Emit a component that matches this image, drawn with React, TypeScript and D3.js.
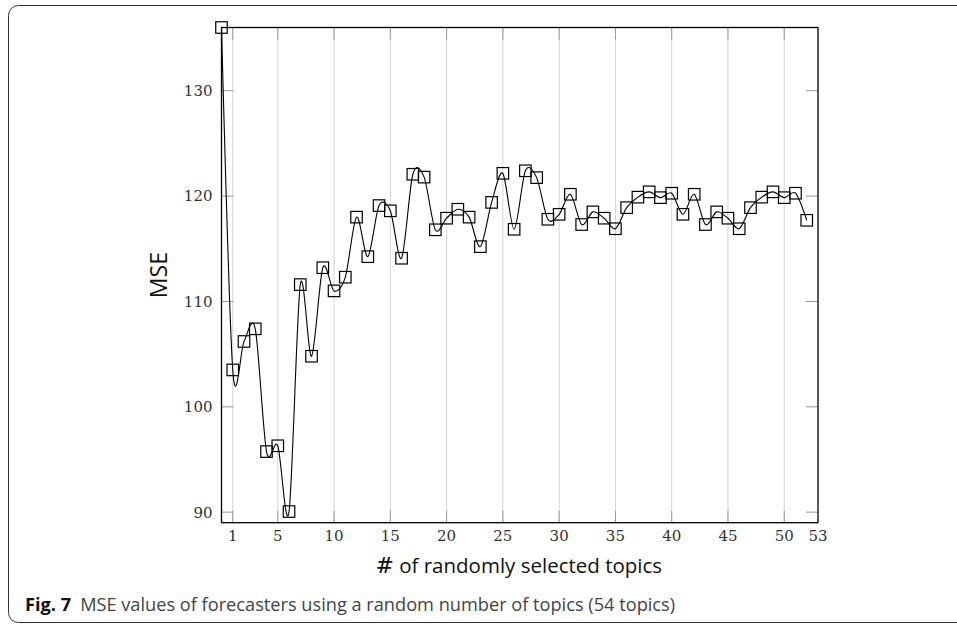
import React, { useEffect, useRef } from "react";
import * as d3 from "d3";

// number of randomly selected topics (x) and the MSE measured for it
const topics = d3.range(0, 53);
const mse = [
  136.0, 103.5, 106.2, 107.4, 95.75, 96.3, 90.06, 111.6, 104.8, 113.2,
  111.0, 112.3, 118.0, 114.25, 119.1, 118.6, 114.1, 122.07, 121.8, 116.8,
  117.9, 118.75, 118.0, 115.2, 119.4, 122.16, 116.85, 122.4, 121.75, 117.8,
  118.27, 120.17, 117.3, 118.5, 117.9, 116.9, 118.9, 119.9, 120.4, 119.85,
  120.27, 118.27, 120.17, 117.3, 118.5, 117.9, 116.9, 118.9, 119.9, 120.4,
  119.85, 120.27, 117.7,
];
const xTicks = [1, 5, 10, 15, 20, 25, 30, 35, 40, 45, 50, 53];
const yTicks = [90, 100, 110, 120, 130];

const W = 957;
const H = 626;

function Chart() {
  const ref = useRef<SVGSVGElement>(null);

  useEffect(() => {
    const svg = d3.select(ref.current);
    svg.selectAll("*").remove();

    const left = 221.5, right = 818, top = 27.5, bottom = 522.7;

    const x = d3.scaleLinear().domain([0, 53]).range([left, right]);
    const y = d3.scaleLinear().domain([89, 136]).range([bottom, top]);

    // card frame around figure + caption
    svg.append("rect")
      .attr("x", 8.5).attr("y", 5.5)
      .attr("width", 980).attr("height", 617)
      .attr("rx", 10)
      .attr("fill", "none")
      .attr("stroke", "#333")
      .attr("stroke-width", 1);

    // vertical grid
    svg.append("g")
      .selectAll("line")
      .data(xTicks.filter(d => d < 53))
      .join("line")
      .attr("x1", d => x(d)).attr("x2", d => x(d))
      .attr("y1", top).attr("y2", bottom)
      .attr("stroke", "#d4d4d4")
      .attr("stroke-width", 1);

    // tick marks, inside, top/bottom
    const tickLen = 12;
    const tg = svg.append("g").attr("stroke", "#9a9a9a").attr("stroke-width", 1);
    xTicks.filter(d => d < 53).forEach(d => {
      tg.append("line").attr("x1", x(d)).attr("x2", x(d)).attr("y1", bottom).attr("y2", bottom - tickLen);
      tg.append("line").attr("x1", x(d)).attr("x2", x(d)).attr("y1", top).attr("y2", top + tickLen);
    });
    yTicks.forEach(d => {
      tg.append("line").attr("x1", left).attr("x2", left + tickLen).attr("y1", y(d)).attr("y2", y(d));
      tg.append("line").attr("x1", right).attr("x2", right - tickLen).attr("y1", y(d)).attr("y2", y(d));
    });

    // axis box
    svg.append("rect")
      .attr("x", left).attr("y", top)
      .attr("width", right - left).attr("height", bottom - top)
      .attr("fill", "none")
      .attr("stroke", "#000")
      .attr("stroke-width", 1.3);

    // tick labels
    svg.append("g")
      .selectAll("text")
      .data(xTicks)
      .join("text")
      .attr("x", d => x(d))
      .attr("y", 541)
      .attr("text-anchor", "middle")
      .attr("font-family", "DejaVu Serif")
      .attr("font-size", 15)
      .attr("fill", "#333")
      .text(d => d);

    svg.append("g")
      .selectAll("text")
      .data(yTicks)
      .join("text")
      .attr("x", left - 9)
      .attr("y", d => y(d))
      .attr("dy", "0.36em")
      .attr("text-anchor", "end")
      .attr("font-family", "DejaVu Serif")
      .attr("font-size", 15)
      .attr("fill", "#333")
      .text(d => d);

    // the smoothed line
    const pts = topics.map((t, i) => [t, mse[i]] as [number, number]);
    svg.append("path")
      .datum(pts)
      .attr("fill", "none")
      .attr("stroke", "#000")
      .attr("stroke-width", 1.1)
      .attr("d", d3.line<[number, number]>()
        .x(d => x(d[0]))
        .y(d => y(d[1]))
        .curve(d3.curveCardinal.tension(0.1)));

    // square markers
    const s = 11.5;
    svg.append("g")
      .selectAll("rect")
      .data(pts)
      .join("rect")
      .attr("x", d => x(d[0]) - s / 2)
      .attr("y", d => y(d[1]) - s / 2)
      .attr("width", s).attr("height", s)
      .attr("fill", "none")
      .attr("stroke", "#000")
      .attr("stroke-width", 1.2);

    // axis labels
    svg.append("text")
      .attr("transform", `translate(167,${(top + bottom) / 2}) rotate(-90)`)
      .attr("text-anchor", "middle")
      .attr("font-family", "Open Sans")
      .attr("font-size", 23)
      .attr("fill", "#111")
      .text("MSE");

    const xl = svg.append("text")
      .attr("x", (left + right) / 2 - 1)
      .attr("y", 573)
      .attr("text-anchor", "middle")
      .attr("font-family", "Open Sans")
      .attr("font-size", 20.5)
      .attr("fill", "#111");
    xl.append("tspan").attr("font-family", "DejaVu Serif").attr("font-size", 22).text("#");
    xl.append("tspan").text(" of randomly selected topics");

    // caption
    const cap = svg.append("text")
      .attr("x", 25)
      .attr("y", 611)
      .attr("font-family", "Open Sans")
      .attr("font-size", 18.2)
      .attr("fill", "#444");
    cap.append("tspan").attr("font-weight", "bold").attr("fill", "#111").text("Fig. 7");
    cap.append("tspan").attr("dx", 9).text("MSE values of forecasters using a random number of topics (54 topics)");
  }, []);

  return <svg ref={ref} width={W} height={H} style={{ display: "block" }} />;
}

export default function App() {
  return (
    <div style={{ position: "absolute", left: 0, top: 0, width: W, height: H, overflow: "hidden", background: "#fff" }}>
      <Chart />
    </div>
  );
}
